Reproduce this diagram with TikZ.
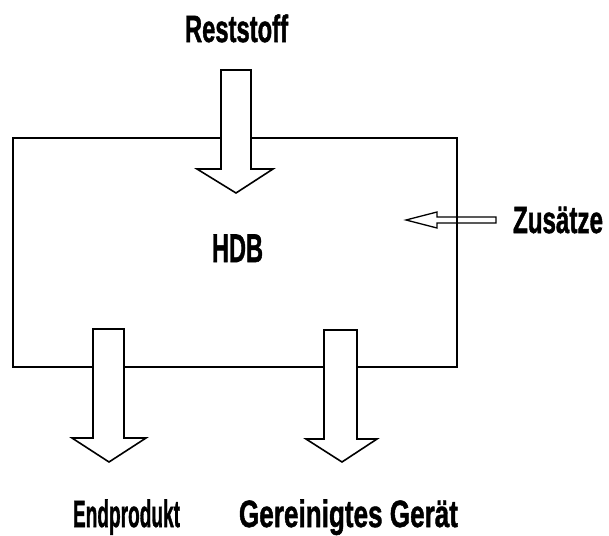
\documentclass[tikz,border=0pt]{standalone}
\usepackage{fontspec}
\setmainfont{Liberation Sans}
\newfontfamily\lblfont{Liberation Sans}[BoldFeatures={FakeBold=1.5}]
\begin{document}
\begin{tikzpicture}[x=1pt,y=-1pt,
  line width=1.6pt, line join=miter,
  lbl/.style={inner sep=0pt, anchor=base, font=\lblfont\fontsize{38}{38}\selectfont\bfseries},
  blockarrow/.style={draw=black, fill=white, line width=1.6pt},
  thinarrow/.style={draw=black, line width=1.3pt}]
\useasboundingbox (0,0) rectangle (609,535);

% feed arrow from the right, drawn beneath the box outline
\draw[thinarrow] (406,220) -- (437,212) -- (437,217) -- (496,217) -- (496,223)
  -- (437,223) -- (437,228) -- cycle;

% process box
\node[draw, line width=1.6pt, minimum width=444pt, minimum height=229pt,
      anchor=north west, inner sep=0pt] (box) at (12,137) {};

% block arrows entering and leaving the box
\draw[blockarrow] (221,70) -- (251,70) -- (251,169) -- (273,169) -- (236,193)
  -- (197,169) -- (221,169) -- cycle;
\draw[blockarrow] (93,329) -- (124,329) -- (124,438) -- (146,438) -- (109,462)
  -- (72,438) -- (93,438) -- cycle;
\draw[blockarrow] (324,330) -- (357,330) -- (357,439) -- (377,439) -- (342,462)
  -- (306,439) -- (324,439) -- cycle;

% labels
\node[lbl] (rest) at (236.5,42) {\scalebox{0.626}[1]{Reststoff}};
\node[lbl, font=\lblfont\fontsize{40}{40}\selectfont\bfseries] (hdb) at (237.5,262) {\scalebox{0.59}[1]{HDB}};
\node[lbl] (zus) at (558,233) {\scalebox{0.636}[1]{Zusätze}};
\node[lbl] (end) at (126.5,527) {\scalebox{0.502}[1]{Endprodukt}};
\node[lbl] (ger) at (348.5,527) {\scalebox{0.687}[1]{Gereinigtes Gerät}};
\end{tikzpicture}
\end{document}
